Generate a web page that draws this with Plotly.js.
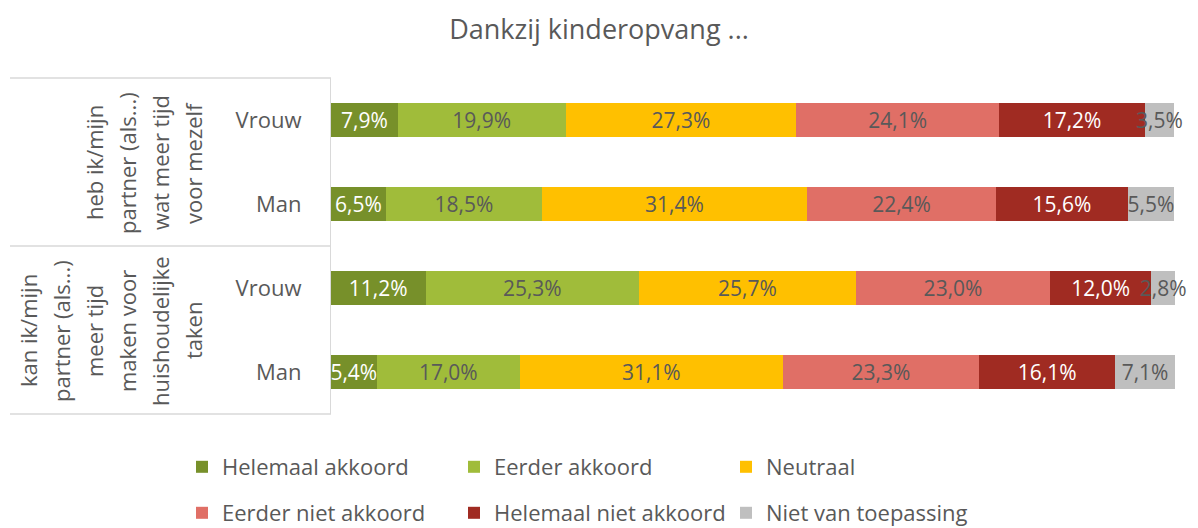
<!DOCTYPE html>
<html>
<head>
<meta charset="utf-8">
<script src="https://cdn.plot.ly/plotly-3.0.1.min.js"></script>
<style>html,body{margin:0;padding:0;background:#fff;}#chart{width:1198px;height:528px;}</style>
</head>
<body>
<div id="chart"></div>
<script>
// ---- data ----
var groupKeys = ["g1", "g1", "g2", "g2"];
var genders = ["Vrouw", "Man", "Vrouw", "Man"];
var group1Lines = ["heb ik/mijn", "partner (als...)", "wat meer tijd", "voor mezelf"];
var group2Lines = ["kan ik/mijn", "partner (als...)", "meer tijd", "maken voor", "huishoudelijke", "taken"];
var seriesNames = ["Helemaal akkoord", "Eerder akkoord", "Neutraal", "Eerder niet akkoord", "Helemaal niet akkoord", "Niet van toepassing"];
var helemaalAkkoord = [7.9, 6.5, 11.2, 5.4];
var eerderAkkoord = [19.9, 18.5, 25.3, 17.0];
var neutraal = [27.3, 31.4, 25.7, 31.1];
var eerderNietAkkoord = [24.1, 22.4, 23.0, 23.3];
var helemaalNietAkkoord = [17.2, 15.6, 12.0, 16.1];
var nietVanToepassing = [3.5, 5.5, 2.8, 7.1];
var chartTitle = "Dankzij kinderopvang ...";

// ---- styling ----
var seriesValues = [helemaalAkkoord, eerderAkkoord, neutraal, eerderNietAkkoord, helemaalNietAkkoord, nietVanToepassing];
var colors = ["#77902A", "#A0BC3A", "#FFC000", "#E06F66", "#A02B22", "#BFBFBF"];
var textColors = ["#FFFFFF", "#595959", "#595959", "#595959", "#FFFFFF", "#595959"];
var FONT = "'Open Sans', 'Segoe UI', sans-serif";
var GRAY = "#595959";

var yKeys = groupKeys.map(function (g, i) { return g + "-" + genders[i]; });

var traces = seriesNames.map(function (name, k) {
  return {
    type: "bar",
    orientation: "h",
    name: name,
    x: seriesValues[k],
    y: yKeys,
    marker: { color: colors[k], line: { width: 0 } },
    text: seriesValues[k],
    texttemplate: "%{x:.1f}%",
    textposition: "inside",
    insidetextanchor: "middle",
    textangle: 0,
    constraintext: "none",
    cliponaxis: false,
    insidetextfont: { family: FONT, size: 21, color: textColors[k] },
    hoverinfo: "name+x",
    legend: k < 3 ? "legend" : "legend2"
  };
});

// plot area pixel geometry
var L = 331, R = 23, T = 78, B = 114, W = 1198, H = 528;
var pw = W - L - R, ph = H - T - B;
function px(x) { return (x - L) / pw; }
function py(y) { return (H - B - y) / ph; }

var annotations = [];
function addGroup(lines, lastX, centerY) {
  var n = lines.length;
  lines.forEach(function (t, i) {
    var x = lastX - (n - 1 - i) * 33;
    annotations.push({
      text: t, xref: "paper", yref: "paper", x: px(x), y: py(centerY),
      xanchor: "center", yanchor: "middle", textangle: -90, showarrow: false,
      font: { family: FONT, size: 22, color: GRAY }
    });
  });
}
addGroup(group1Lines, 193, 163);
addGroup(group2Lines, 193, 331);

var lineColor = "#D9D9D9";
var shapes = [0, 0.5, 1].map(function (yy) {
  return {
    type: "line", xref: "paper", yref: "paper",
    x0: px(10), x1: px(L), y0: yy, y1: yy,
    line: { color: lineColor, width: 1.3 }
  };
});

var legendCommon = {
  orientation: "h", xref: "paper", yref: "paper",
  xanchor: "left", yanchor: "middle", traceorder: "normal",
  entrywidth: 227, entrywidthmode: "pixels",
  font: { family: FONT, size: 22, color: GRAY },
  bgcolor: "rgba(0,0,0,0)", borderwidth: 0, itemclick: false, itemdoubleclick: false
};

var layout = {
  width: W, height: H,
  margin: { l: L, r: R, t: T, b: B, pad: 0, autoexpand: false },
  paper_bgcolor: "#FFFFFF", plot_bgcolor: "#FFFFFF",
  separators: ",.",
  barmode: "stack",
  bargap: 0.607,
  showlegend: true,
  title: {
    text: chartTitle, x: 0.5, xref: "container", xanchor: "center",
    y: 1 - 30 / H, yref: "container", yanchor: "middle",
    font: { family: FONT, size: 27, color: GRAY }
  },
  xaxis: {
    range: [0, 100], showgrid: false, zeroline: false, showline: false,
    showticklabels: false, ticks: "", fixedrange: true
  },
  yaxis: {
    type: "category", autorange: "reversed",
    tickvals: yKeys, ticktext: genders,
    showgrid: false, zeroline: false,
    showline: true, linecolor: lineColor, linewidth: 1.3,
    ticks: "", ticklabelstandoff: 24,
    tickfont: { family: FONT, size: 22, color: GRAY },
    fixedrange: true
  },
  legend: Object.assign({}, legendCommon, { x: px(182), y: py(467) }),
  legend2: Object.assign({}, legendCommon, { x: px(182), y: py(513) }),
  annotations: annotations,
  shapes: shapes
};

Plotly.newPlot("chart", traces, layout, { displayModeBar: false, responsive: false });
</script>
</body>
</html>
